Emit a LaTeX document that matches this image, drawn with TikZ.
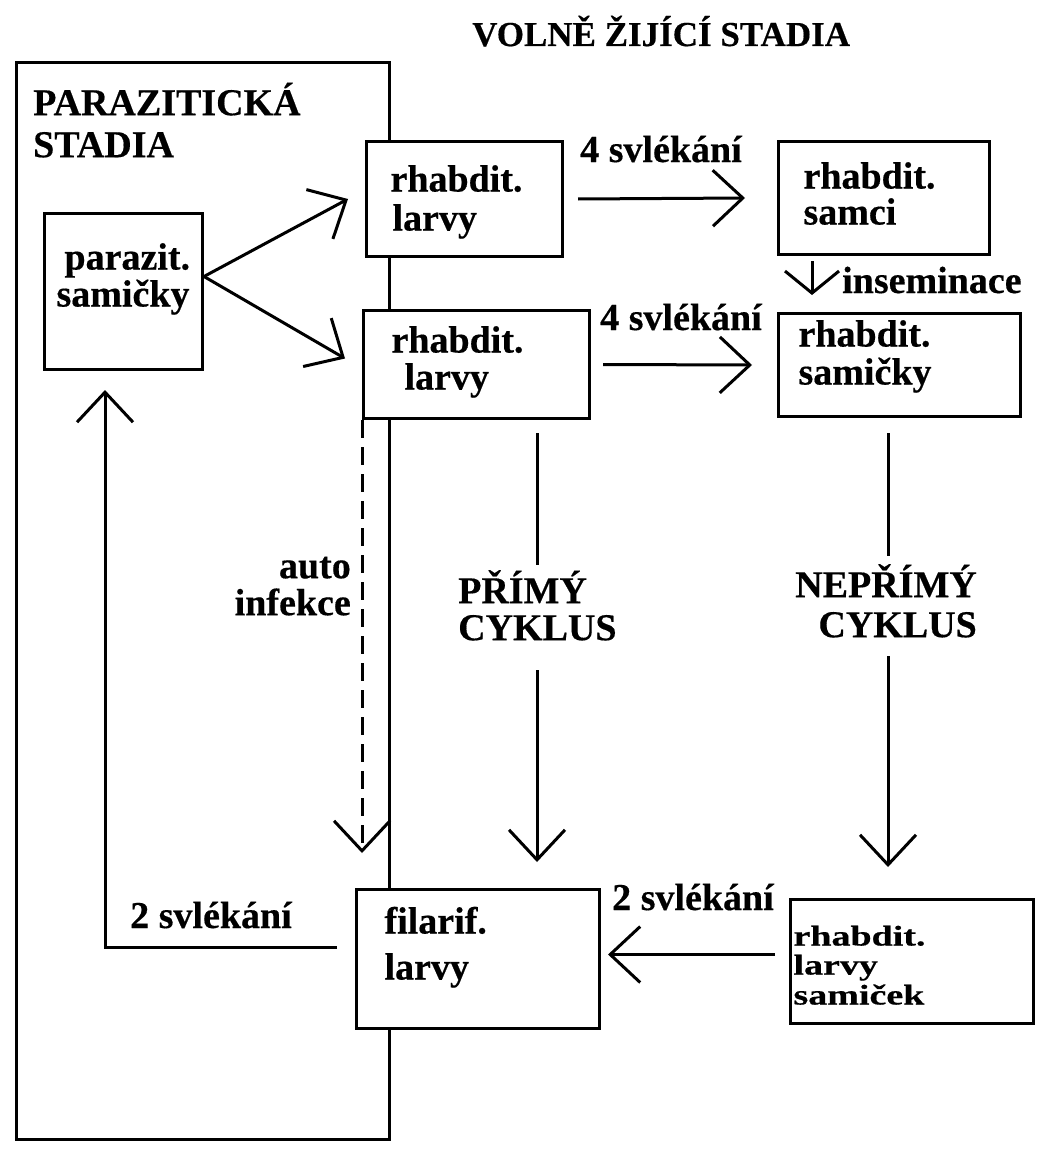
\documentclass[tikz,border=0pt]{standalone}
\usepackage{graphicx}
\usepackage{fontspec}
\setmainfont{Liberation Serif}[FakeBold=0.4]
\usetikzlibrary{arrows.meta}
% \tb{width}{height}{first baseline}{baselineskip}{alignment}{text}
\newcommand{\tb}[6]{\parbox[c][#2pt][t]{#1pt}{#5\baselineskip=#4pt\lineskiplimit=-100pt\vspace*{\dimexpr#3pt-40pt\relax}\rule{0pt}{40pt}#6}}
\newcommand{\sq}[1]{\scalebox{1}[0.75]{#1}}
\tikzset{
  txt/.style={font=\fontsize{38pt}{42pt}\selectfont\bfseries, inner sep=0pt},
  box/.style={txt, draw, line width=3pt, fill=white, anchor=north west},
  frm/.style={draw, line width=3pt, inner sep=0pt, anchor=north west},
  plain/.style={line width=3pt},
  conn/.style={line width=3pt, -{Straight Barb[length=30pt,width=56pt]}},
}
\begin{document}
\begin{tikzpicture}[x=1pt,y=-1pt]
\useasboundingbox (0,0) rectangle (1037,1153);
% frame of the parasitic stages
\node[frm, minimum width=373pt, minimum height=1077pt] (frame) at (15,61) {};
\node[txt, anchor=north west] (pst) at (33,75) {\tb{330}{90}{40}{42}{\raggedright}{PARAZITICKÁ\\STADIA}};
\node[txt, anchor=base west, font=\fontsize{35pt}{38pt}\selectfont\bfseries] (title) at (472,46) {VOLNĚ ŽIJÍCÍ STADIA};
% boxes
\node[box] (par) at (43,212) {\tb{158}{156}{56}{37}{\raggedright}{\hspace*{20pt}parazit.\\\hspace*{12pt}samičky}};
\node[box] (l1) at (365,140) {\tb{196}{115}{50}{39}{\raggedright}{\hspace*{24pt}rhabdit.\\\hspace*{26pt}larvy}};
\node[box] (l2) at (362,309) {\tb{226}{108}{42}{37}{\raggedright}{\hspace*{28pt}rhabdit.\\\hspace*{41pt}larvy}};
\node[box] (samci) at (777,140) {\tb{211}{113}{47}{36}{\raggedright}{\hspace*{25pt}rhabdit.\\\hspace*{25pt}samci}};
\node[box] (samicky) at (777,312) {\tb{242}{103}{33}{38}{\raggedright}{\hspace*{20pt}rhabdit.\\\hspace*{20pt}samičky}};
\node[box] (fil) at (355,888) {\tb{243}{139}{44}{46}{\raggedright}{\hspace*{28pt}filarif.\\\hspace*{28pt}larvy}};
\node[box] (samicek) at (789,898) {\tb{243}{124}{46}{29}{\raggedright}{\hspace*{3pt}\sq{rhabdit.}\\\hspace*{3pt}\sq{larvy}\\[1pt]\hspace*{3pt}\sq{samiček}}};
% labels
\node[txt, anchor=base west] (s4a) at (580,162) {4 svlékání};
\node[txt, anchor=base west] (s4b) at (600,330) {4 svlékání};
\node[txt, anchor=base west] (ins) at (842,293) {inseminace};
\node[txt, anchor=base west] (s2a) at (612,910) {2 svlékání};
\node[txt, anchor=base west] (s2b) at (130,928) {2 svlékání};
\node[txt, anchor=north east] (auto) at (351,540) {\tb{140}{80}{38}{37}{\raggedleft}{auto\\infekce}};
\node[txt, anchor=north west] (primy) at (458,565) {\tb{180}{100}{38}{37}{\raggedright}{PŘÍMÝ\\CYKLUS}};
\node[txt, anchor=north east] (neprimy) at (977,560) {\tb{200}{90}{37}{40}{\raggedleft}{NEPŘÍMÝ\\CYKLUS}};
% connectors
\draw[conn] ([yshift=15pt]par.east) -- ([xshift=-17pt]l1.west);
\draw[conn] ([yshift=15pt]par.east) -- ([shift={(-17pt,6pt)}]l2.west);
\draw[conn] ([xshift=14pt]l1.east) -- ([xshift=-32pt]samci.west);
\draw[conn] ([xshift=12pt]l2.east) -- ([xshift=-25pt]samicky.west);
\draw[line width=3pt, -{Straight Barb[length=22pt,width=54pt]}] ([shift={(35pt,-5pt)}]samci.south west) -- ([shift={(35pt,17pt)}]samicky.north west);
\draw[plain] ([shift={(175pt,-13pt)}]l2.south west) -- ([shift={(175pt,-145pt)}]l2.south west);
\draw[conn] ([shift={(175pt,-250pt)}]l2.south west) -- ([shift={(182pt,26pt)}]fil.north west);
\draw[plain] ([shift={(111pt,-15pt)}]samicky.south west) -- ([shift={(111pt,-138pt)}]samicky.south west);
\draw[conn] ([shift={(111pt,-238pt)}]samicky.south west) -- ([shift={(99pt,31pt)}]samicek.north west);
\draw[conn, dash pattern=on 18pt off 9pt] (l2.south west) -- ([shift={(7pt,35pt)}]fil.north west);
\draw[conn] ([shift={(-14pt,7pt)}]samicek.west) -- ([shift={(7pt,4.5pt)}]fil.east);
\draw[conn] ([shift={(-18pt,12pt)}]fil.west) -| ([shift={(62pt,-19pt)}]par.south west);
\end{tikzpicture}
\end{document}
